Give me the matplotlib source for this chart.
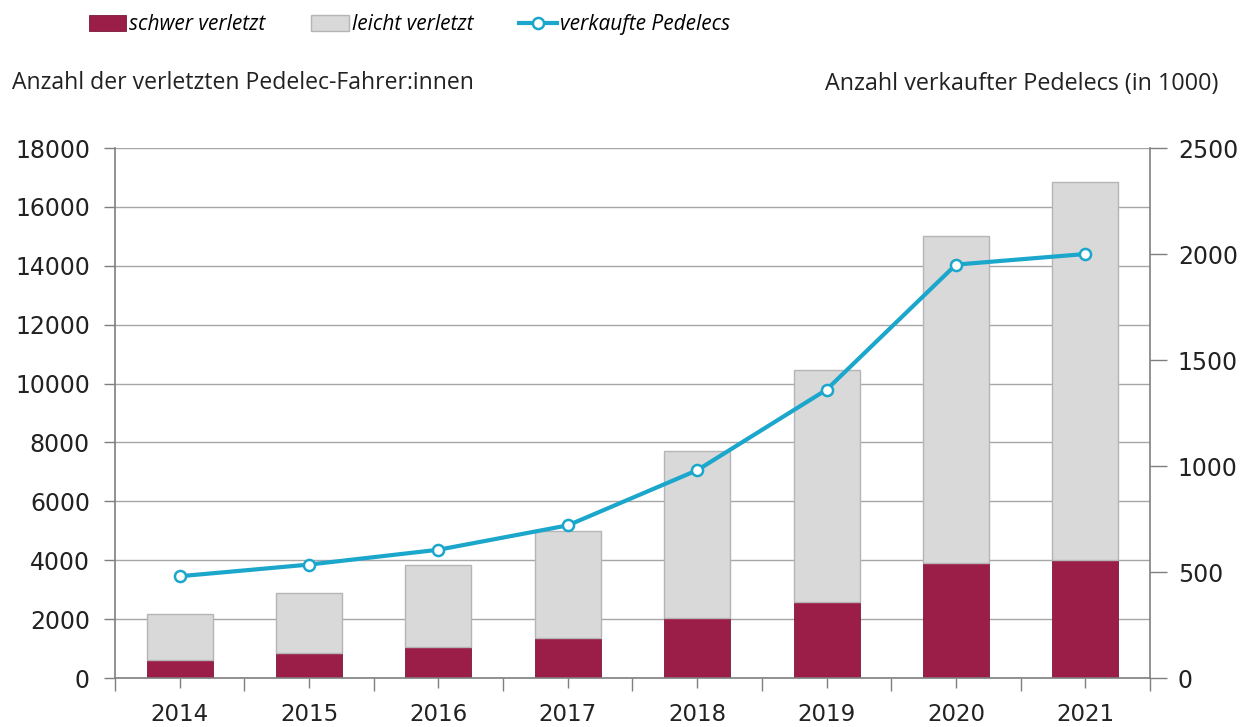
import numpy as np
import matplotlib.pyplot as plt

years = ["2014", "2015", "2016", "2017", "2018", "2019", "2020", "2021"]
schwer = [600, 850, 1050, 1360, 2040, 2580, 3900, 4010]
gesamt = [2180, 2890, 3840, 5000, 7710, 10460, 15010, 16850]
leicht = [g - s for g, s in zip(gesamt, schwer)]
verkauft = [480, 535, 605, 720, 980, 1360, 1950, 2000]

red = "#9B1E48"
grey = "#D9D9D9"
blue = "#1BA6CB"
axcol = "#7F7F7F"

plt.rcParams["font.family"] = ["DejaVu Sans"]

fig = plt.figure(figsize=(12.48, 7.27), dpi=100)
ax = fig.add_axes([0.0921, 0.0674, 0.8294, 0.729])
x = np.arange(len(years))

b1 = ax.bar(x, schwer, width=0.51, color=red, edgecolor="#7A1838", linewidth=0.6, zorder=2)
b2 = ax.bar(x, leicht, bottom=schwer, width=0.51, color=grey, edgecolor="#B5B5B5",
            linewidth=1.0, zorder=2)

ax.set_xlim(-0.5, len(years) - 0.5)
ax.set_ylim(0, 18000)
ax.set_yticks(np.arange(0, 18001, 2000))
ax.yaxis.grid(True, color="#A6A6A6", linewidth=1.0, zorder=0)
ax.set_axisbelow(True)

# lange Striche an den Kategoriegrenzen, kurze mit Jahreszahl in der Mitte
ax.set_xticks(np.arange(-0.5, len(years), 1.0))
ax.set_xticklabels([])
ax.set_xticks(x, minor=True)
ax.set_xticklabels(years, minor=True)
ax.tick_params(axis="x", which="major", length=9, width=1, color=axcol)
ax.tick_params(axis="x", which="minor", length=7, width=1, color=axcol, pad=11,
               labelsize=16.5, labelcolor="#222222")
ax.tick_params(axis="y", length=8, width=1, color=axcol, pad=10,
               labelsize=17, labelcolor="#222222")

for s in ["top", "right"]:
    ax.spines[s].set_visible(False)
for s in ["left", "bottom"]:
    ax.spines[s].set_color(axcol)
    ax.spines[s].set_linewidth(1.2)

ax2 = ax.twinx()
ax2.set_ylim(0, 2500)
ax2.set_yticks(np.arange(0, 2501, 500))
ax2.tick_params(axis="y", length=12, width=1, color=axcol, pad=8,
                labelsize=17, labelcolor="#222222")
for s in ["top", "left", "bottom"]:
    ax2.spines[s].set_visible(False)
ax2.spines["right"].set_color(axcol)
ax2.spines["right"].set_linewidth(1.2)

l1, = ax2.plot(x, verkauft, color=blue, linewidth=3, marker="o", markersize=8,
               markerfacecolor="white", markeredgecolor=blue, markeredgewidth=1.8, zorder=3)

fig.text(0.0096, 0.886, "Anzahl der verletzten Pedelec-Fahrer:innen", fontsize=16.6,
         family="Open Sans", color="#222222", va="center", ha="left")
fig.text(0.976, 0.884, "Anzahl verkaufter Pedelecs (in 1000)", fontsize=16.8,
         family="Open Sans", color="#222222", va="center", ha="right")

fig.legend([b1, b2, l1], ["schwer verletzt", "leicht verletzt", "verkaufte Pedelecs"],
           loc="center left", bbox_to_anchor=(0.056, 0.966), ncol=3, frameon=False,
           prop={"family": "Open Sans", "style": "italic", "size": 15},
           handlelength=1.8, handleheight=0.8, handletextpad=0.15, columnspacing=2.2)

fig.savefig("out.png", dpi=100)
